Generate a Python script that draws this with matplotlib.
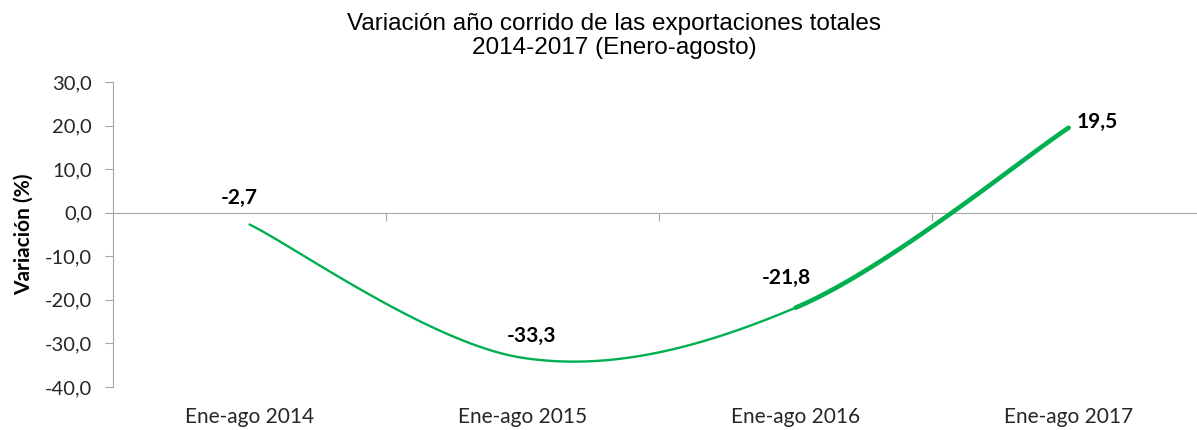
import numpy as np
import matplotlib
matplotlib.use("Agg")
import matplotlib.pyplot as plt
import matplotlib.transforms as mtransforms

# Data
categories = ["Ene-ago 2014", "Ene-ago 2015", "Ene-ago 2016", "Ene-ago 2017"]
variation = [-2.7, -33.3, -21.8, 19.5]
value_labels = ["-2,7", "-33,3", "-21,8", "19,5"]
y_ticks = [-40, -30, -20, -10, 0, 10, 20, 30]

line_color = "#00B050"
axis_color = "#A6A6A6"
label_font = "Lato"


def smooth_segment(points, i, samples=60):
    """Excel-style smoothed segment between points i and i+1."""
    n = len(points)
    p0 = points[max(i - 1, 0)]
    p1 = points[i]
    p2 = points[i + 1]
    p3 = points[min(i + 2, n - 1)]
    c1 = p1 + (p2 - p0) / 6.0
    c2 = p2 - (p3 - p1) / 6.0
    t = np.linspace(0, 1, samples)[:, None]
    curve = ((1 - t) ** 3) * p1 + 3 * ((1 - t) ** 2) * t * c1 \
        + 3 * (1 - t) * t ** 2 * c2 + t ** 3 * p2
    return curve[:, 0], curve[:, 1]


figure = plt.figure(figsize=(11.97, 4.30), dpi=100)
axis = figure.add_axes([0.0944, 0.1, 0.9056, 0.7093])

x_positions = np.arange(len(categories))
points = np.column_stack([x_positions, variation]).astype(float)

# Thin line for the first segments, thicker for the last one
for i in range(len(points) - 1):
    xs, ys = smooth_segment(points, i)
    width = 3.3 if i == len(points) - 2 else 1.7
    axis.plot(xs, ys, color=line_color, linewidth=width,
              solid_capstyle="round", zorder=3)

axis.set_xlim(-0.5, 3.47)
axis.set_ylim(-40, 30)
axis.set_yticks(y_ticks)
axis.set_yticklabels(["{:.1f}".format(v).replace(".", ",") for v in y_ticks],
                     fontsize=14.5, fontfamily=label_font, color="#262626")

# Axes styling
for side in ["top", "right"]:
    axis.spines[side].set_visible(False)
axis.spines["left"].set_color(axis_color)
axis.spines["bottom"].set_color(axis_color)
axis.spines["bottom"].set_position(("data", 0))
axis.tick_params(axis="y", length=6, color=axis_color, pad=9)
axis.set_xticks([0.5, 1.5, 2.5])
axis.set_xticklabels([])
axis.tick_params(axis="x", length=6, direction="out", color=axis_color)

# Category labels below the plot area
text_transform = mtransforms.blended_transform_factory(axis.transData, axis.transAxes)
for x, name in zip(x_positions, categories):
    axis.text(x, -0.1, name, transform=text_transform, ha="center", va="center",
              fontsize=15, fontfamily=label_font, color="#262626")

# Data labels
offsets = [(-10, 27), (9, 22), (-9, 30), (29, 6)]
for x, y, text, (dx, dy) in zip(x_positions, variation, value_labels, offsets):
    axis.annotate(text, (x, y), xytext=(dx, dy), textcoords="offset pixels",
                  ha="center", va="center", fontsize=15, fontweight="bold",
                  fontfamily=label_font, color="black")

axis.set_ylabel("Variación (%)", fontsize=15, fontweight="bold",
                fontfamily=label_font, labelpad=8)

figure.suptitle("Variación año corrido de las exportaciones totales\n2014-2017 (Enero-agosto)",
                x=0.513, y=0.97, fontsize=17.5, fontfamily="Liberation Sans",
                linespacing=1.1)

figure.savefig("out.png", dpi=100)
plt.close(figure)
